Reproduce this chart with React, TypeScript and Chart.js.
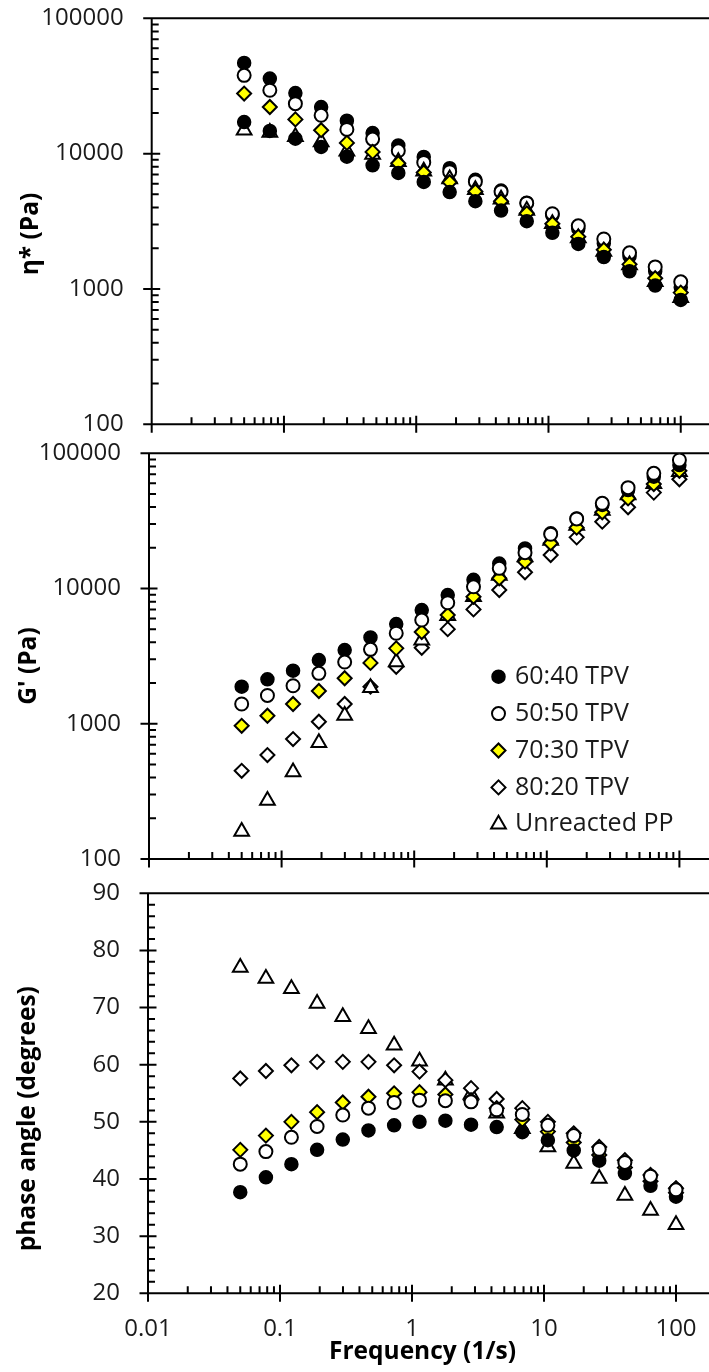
import { useEffect, useRef } from 'react';
import { Chart, registerables } from 'chart.js';
import { drawPoint } from 'chart.js/helpers';

Chart.register(...registerables);

// Angular frequency of each measurement (1/s)
const frequency = [0.05, 0.0782, 0.122, 0.191, 0.299, 0.468, 0.732, 1.14, 1.79, 2.8, 4.38, 6.85, 10.7, 16.8, 26.2, 41, 64.1, 100];

const seriesNames = ['60:40 TPV', '50:50 TPV', '70:30 TPV', '80:20 TPV', 'Unreacted PP'];

// Complex viscosity η* (Pa)
const eta6040 = [46800, 35900, 28000, 22100, 17500, 14200, 11500, 9450, 7800, 6400, 5330, 4340, 3500, 2790, 2180, 1740, 1350, 1030];
const eta5050 = [37900, 29400, 23400, 19200, 15100, 12800, 10500, 8600, 7350, 6200, 5230, 4300, 3600, 2930, 2340, 1850, 1455, 1130];
const eta7030 = [27800, 22100, 17900, 14900, 12000, 10300, 8500, 7250, 6150, 5250, 4450, 3620, 3030, 2430, 1950, 1520, 1200, 940];
const eta8020 = [17100, 14700, 12900, 11200, 9500, 8200, 7200, 6180, 5200, 4450, 3800, 3170, 2600, 2150, 1720, 1350, 1060, 830];
const etaPP = [14900, 14300, 13300, 12200, 10400, 9850, 8700, 7400, 6500, 5400, 4600, 3800, 3030, 2380, 1890, 1505, 1130, 860];

// Storage modulus G' (Pa)
const storage6040 = [1880, 2130, 2470, 2960, 3510, 4350, 5460, 6930, 8950, 11600, 15300, 19800, 25600, 33000, 41500, 53500, 67100, 81900];
const storage5050 = [1400, 1620, 1910, 2360, 2860, 3550, 4670, 5850, 7850, 10300, 14100, 18400, 25200, 32700, 42700, 55700, 71100, 89200];
const storage7030 = [966, 1146, 1400, 1746, 2170, 2820, 3610, 4770, 6370, 8690, 11900, 15800, 21600, 28200, 36600, 46400, 59300, 74300];
const storage8020 = [449, 587, 771, 1035, 1400, 1880, 2640, 3650, 5010, 7010, 9750, 13200, 17700, 23900, 31200, 39900, 51200, 64300];
const storagePP = [160, 271, 440, 723, 1153, 1850, 2860, 4140, 6300, 8700, 12500, 17100, 22700, 29300, 37800, 49200, 59600, 73000];

// Phase angle δ (degrees)
const phase6040 = [37.7, 40.3, 42.6, 45.1, 46.9, 48.5, 49.4, 50.0, 50.2, 49.5, 49.1, 48.2, 46.8, 45.0, 43.2, 41.0, 38.8, 36.9];
const phase5050 = [42.6, 44.8, 47.3, 49.2, 51.2, 52.4, 53.4, 53.8, 53.7, 53.5, 52.1, 51.3, 49.4, 47.6, 45.2, 42.9, 40.5, 38.1];
const phase7030 = [45.1, 47.6, 50.0, 51.7, 53.4, 54.4, 55.0, 55.2, 54.8, 53.8, 52.4, 50.4, 48.3, 46.4, 44.2, 42.0, 39.6, 37.6];
const phase8020 = [57.6, 58.9, 59.9, 60.5, 60.5, 60.5, 59.9, 58.8, 57.3, 55.9, 54.0, 52.4, 50.0, 48.0, 45.6, 43.3, 40.7, 38.4];
const phasePP = [77.0, 75.1, 73.3, 70.7, 68.4, 66.3, 63.4, 60.6, 57.3, 54.8, 51.5, 48.8, 45.6, 42.7, 40.1, 37.1, 34.5, 32.0];

// Axis ticks and their labels
const xTicks = [0.01, 0.1, 1, 10, 100];
const xTickLabels = ['0.01', '0.1', '1', '10', '100'];
const modulusTicks = [100, 1000, 10000, 100000];
const modulusTickLabels = ['100', '1000', '10000', '100000'];
const phaseTicks = [20, 30, 40, 50, 60, 70, 80, 90];
const phaseTickLabels = ['20', '30', '40', '50', '60', '70', '80', '90'];

const FONT = "'Open Sans', sans-serif";
const TEXT = '#1a1a1a';
const CANVAS_W = 900;

type Marker = { pointStyle: string; fill: string; radius: number; border: number };

const solidCircle: Marker = { pointStyle: 'circle', fill: '#000000', radius: 6.5, border: 1.5 };
const openCircle: Marker = { pointStyle: 'circle', fill: '#ffffff', radius: 6.5, border: 2 };
const yellowDiamond: Marker = { pointStyle: 'rectRot', fill: '#ffff00', radius: 7, border: 2 };
const openDiamond: Marker = { pointStyle: 'rectRot', fill: '#ffffff', radius: 7, border: 2 };
const openTriangle: Marker = { pointStyle: 'triangle', fill: '#ffffff', radius: 8.5, border: 2 };

function series(label: string, values: number[], mark: Marker, order: number) {
  return {
    label,
    data: frequency.map((f, i) => ({ x: f, y: values[i] })),
    pointStyle: mark.pointStyle,
    pointRadius: mark.radius,
    pointBackgroundColor: mark.fill,
    pointBorderColor: '#000000',
    pointBorderWidth: mark.border,
    showLine: false,
    order,
  };
}

// Log decades or linear steps for the tick marks drawn on the frame
function tickMarks(scale: any): { major: number[]; minor: number[] } {
  const major: number[] = [];
  const minor: number[] = [];
  if (scale.type === 'logarithmic') {
    const lo = Math.round(Math.log10(scale.min));
    const hi = Math.round(Math.log10(scale.max));
    for (let e = lo; e <= hi; e++) {
      const base = Math.pow(10, e);
      major.push(base);
      if (e < hi) for (let k = 2; k <= 9; k++) minor.push(k * base);
    }
  } else {
    for (let v = scale.min; v <= scale.max + 1e-9; v += 2) {
      if (Math.abs(v % 10) < 1e-9) major.push(v);
      else minor.push(v);
    }
  }
  return { major, minor };
}

const frame = {
  id: 'frame',
  beforeDatasetsDraw(chart: any) {
    const { ctx, chartArea: a } = chart;
    const xs = chart.scales.x;
    const ys = chart.scales.y;
    const MAJOR = 8.5;
    const MINOR = 7;
    ctx.save();
    ctx.strokeStyle = '#000000';
    ctx.lineWidth = 2;
    ctx.beginPath();
    ctx.moveTo(a.left - 1, a.top);
    ctx.lineTo(a.right, a.top);
    ctx.moveTo(a.left, a.top);
    ctx.lineTo(a.left, a.bottom);
    ctx.moveTo(a.left - 1, a.bottom);
    ctx.lineTo(a.right, a.bottom);

    const xm = tickMarks(xs);
    xm.major.forEach((v) => {
      const p = xs.getPixelForValue(v);
      ctx.moveTo(p, a.bottom - MAJOR);
      ctx.lineTo(p, a.bottom + MAJOR);
    });
    xm.minor.forEach((v) => {
      const p = xs.getPixelForValue(v);
      ctx.moveTo(p, a.bottom - MINOR);
      ctx.lineTo(p, a.bottom);
    });

    const ym = tickMarks(ys);
    ym.major.forEach((v) => {
      const p = ys.getPixelForValue(v);
      ctx.moveTo(a.left - MAJOR, p);
      ctx.lineTo(a.left + MAJOR, p);
    });
    ym.minor.forEach((v) => {
      const p = ys.getPixelForValue(v);
      ctx.moveTo(a.left, p);
      ctx.lineTo(a.left + MINOR, p);
    });
    ctx.stroke();
    ctx.restore();
  },
};

type Title = { text: string; x: number; y: number; rotate: boolean };

function titles(items: Title[]) {
  return {
    id: 'titles',
    afterDraw(chart: any) {
      const { ctx } = chart;
      ctx.save();
      ctx.fillStyle = '#000000';
      ctx.font = `bold 24.5px ${FONT}`;
      ctx.textAlign = 'center';
      ctx.textBaseline = 'middle';
      items.forEach((t) => {
        ctx.save();
        ctx.translate(t.x, t.y);
        if (t.rotate) ctx.rotate(-Math.PI / 2);
        ctx.fillText(t.text, 0, 0);
        ctx.restore();
      });
      ctx.restore();
    },
  };
}

function legendBox(markerX: number, textX: number, firstY: number, rowGap: number) {
  return {
    id: 'legendBox',
    afterDraw(chart: any) {
      const { ctx } = chart;
      ctx.save();
      chart.data.datasets.forEach((ds: any, i: number) => {
        const y = firstY + i * rowGap;
        ctx.fillStyle = ds.pointBackgroundColor;
        ctx.strokeStyle = ds.pointBorderColor;
        ctx.lineWidth = ds.pointBorderWidth;
        drawPoint(ctx, { pointStyle: ds.pointStyle, radius: ds.pointRadius, borderWidth: ds.pointBorderWidth, rotation: 0 } as any, markerX, y);
        ctx.fillStyle = TEXT;
        ctx.font = `25px ${FONT}`;
        ctx.textAlign = 'left';
        ctx.textBaseline = 'middle';
        ctx.fillText(ds.label, textX, y);
      });
      ctx.restore();
    },
  };
}

type PanelSpec = {
  top: number;
  height: number;
  areaTop: number;
  areaBottom: number;
  areaLeft: number;
  areaRight: number;
  datasets: any[];
  yLog: boolean;
  showXLabels: boolean;
  plugins: any[];
};

function makeChart(canvas: HTMLCanvasElement, spec: PanelSpec) {
  const yScale: any = spec.yLog
    ? {
        type: 'logarithmic',
        min: 100,
        max: 100000,
        afterBuildTicks: (s: any) => {
          s.ticks = modulusTicks.map((v) => ({ value: v }));
        },
        ticks: { callback: (_v: any, i: number) => modulusTickLabels[i] },
      }
    : {
        type: 'linear',
        min: 20,
        max: 90,
        afterBuildTicks: (s: any) => {
          s.ticks = phaseTicks.map((v) => ({ value: v }));
        },
        ticks: { callback: (_v: any, i: number) => phaseTickLabels[i] },
      };
  // fixed axis box so the plot area lands where the frame belongs
  yScale.afterFit = (s: any) => {
    s.width = spec.areaLeft;
    s.paddingTop = 0;
    s.paddingBottom = 0;
  };
  yScale.grid = { display: false, drawTicks: false };
  yScale.border = { display: false };
  yScale.ticks = { ...yScale.ticks, padding: 28, color: TEXT, font: { family: FONT, size: 24 } };

  return new Chart(canvas, {
    type: 'scatter',
    data: { datasets: spec.datasets },
    options: {
      responsive: false,
      maintainAspectRatio: false,
      animation: false,
      events: [],
      layout: {
        padding: { top: spec.areaTop, left: 0, right: CANVAS_W - spec.areaRight, bottom: 0 },
      },
      plugins: { legend: { display: false }, tooltip: { enabled: false }, title: { display: false } },
      scales: {
        x: {
          type: 'logarithmic',
          min: 0.01,
          max: 1000,
          afterBuildTicks: (s: any) => {
            s.ticks = xTicks.map((v) => ({ value: v }));
          },
          afterFit: (s: any) => {
            s.height = spec.height - spec.areaBottom;
            s.paddingLeft = 0;
            s.paddingRight = 0;
          },
          grid: { display: false, drawTicks: false },
          border: { display: false },
          ticks: {
            display: spec.showXLabels,
            padding: 21,
            maxRotation: 0,
            autoSkip: false,
            color: TEXT,
            font: { family: FONT, size: 24 },
            callback: (_v: any, i: number) => xTickLabels[i],
          },
        },
        y: yScale,
      },
    } as any,
    plugins: [frame, ...spec.plugins],
  });
}

export default function App() {
  const c1 = useRef<HTMLCanvasElement>(null);
  const c2 = useRef<HTMLCanvasElement>(null);
  const c3 = useRef<HTMLCanvasElement>(null);

  const panels: PanelSpec[] = [
    {
      top: 0,
      height: 445,
      areaTop: 18.3,
      areaBottom: 424.3,
      areaLeft: 151.7,
      areaRight: 813,
      yLog: true,
      showXLabels: false,
      datasets: [
        series(seriesNames[0], eta6040, solidCircle, 5),
        series(seriesNames[1], eta5050, openCircle, 4),
        series(seriesNames[2], eta7030, yellowDiamond, 2),
        series(seriesNames[3], eta8020, solidCircle, 1),
        series(seriesNames[4], etaPP, openTriangle, 3),
      ],
      plugins: [titles([{ text: 'η* (Pa)', x: 31, y: 234, rotate: true }])],
    },
    {
      top: 430,
      height: 450,
      areaTop: 23.3,
      areaBottom: 429,
      areaLeft: 149,
      areaRight: 812,
      yLog: true,
      showXLabels: false,
      datasets: [
        series(seriesNames[0], storage6040, solidCircle, 2),
        series(seriesNames[1], storage5050, openCircle, 1),
        series(seriesNames[2], storage7030, yellowDiamond, 3),
        series(seriesNames[3], storage8020, openDiamond, 5),
        series(seriesNames[4], storagePP, openTriangle, 4),
      ],
      plugins: [
        titles([{ text: "G' (Pa)", x: 29, y: 236, rotate: true }]),
        legendBox(498.5, 515, 246.7, 36.9),
      ],
    },
    {
      top: 870,
      height: 502,
      areaTop: 23.3,
      areaBottom: 423.3,
      areaLeft: 148,
      areaRight: 808,
      yLog: false,
      showXLabels: true,
      datasets: [
        series(seriesNames[0], phase6040, solidCircle, 2),
        series(seriesNames[1], phase5050, openCircle, 1),
        series(seriesNames[2], phase7030, yellowDiamond, 3),
        series(seriesNames[3], phase8020, openDiamond, 4),
        series(seriesNames[4], phasePP, openTriangle, 5),
      ],
      plugins: [
        titles([
          { text: 'phase angle (degrees)', x: 28, y: 248.7, rotate: true },
          { text: 'Frequency (1/s)', x: 422.5, y: 482, rotate: false },
        ]),
      ],
    },
  ];

  useEffect(() => {
    const refs = [c1, c2, c3];
    const charts = panels.map((p, i) => makeChart(refs[i].current as HTMLCanvasElement, p));
    return () => charts.forEach((c) => c.destroy());
  }, []);

  const refs = [c1, c2, c3];
  return (
    <div
      style={{
        position: 'absolute',
        left: 0,
        top: 0,
        width: 709,
        height: 1372,
        overflow: 'hidden',
        background: '#ffffff',
      }}
    >
      {panels.map((p, i) => (
        <canvas
          key={i}
          ref={refs[i]}
          width={CANVAS_W}
          height={p.height}
          style={{ position: 'absolute', left: 0, top: p.top, width: CANVAS_W, height: p.height, display: 'block' }}
        />
      ))}
    </div>
  );
}
